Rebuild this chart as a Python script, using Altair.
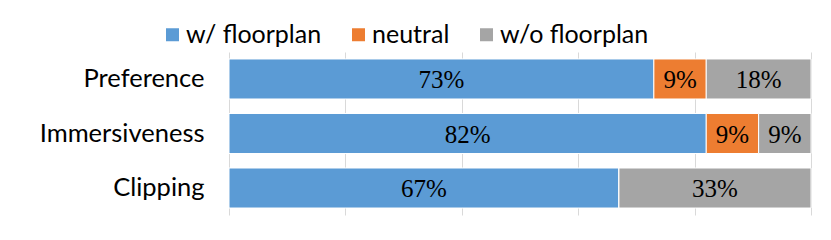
import altair as alt
import pandas as pd

categories = ["Preference", "Immersiveness", "Clipping"]
series = ["w/ floorplan", "neutral", "w/o floorplan"]
with_floorplan = [73, 82, 67]
neutral = [9, 9, 0]
without_floorplan = [18, 9, 33]
colors = ["#5B9BD5", "#ED7D31", "#A5A5A5"]

rows = []
for i, c in enumerate(categories):
    for j, (s, vals) in enumerate(zip(series, [with_floorplan, neutral, without_floorplan])):
        rows.append({"cat": c, "series": s, "order": j, "value": vals[i]})
df = pd.DataFrame(rows)

FONT = "Lato"
NUMFONT = "Liberation Serif"

base = alt.Chart(df).transform_stack(
    stack="value", groupby=["cat"], sort=[alt.SortField("order")], as_=["v0", "v1"]
).transform_calculate(mid="(datum.v0 + datum.v1) / 2", label="datum.value + '%'")

y_enc = alt.Y(
    "cat:N",
    sort=categories,
    title=None,
    scale=alt.Scale(paddingInner=0.266, paddingOuter=0.128),
    axis=alt.Axis(domain=False, ticks=False, grid=False, labelFontSize=25.5,
                  labelFont=FONT, labelColor="#000000", labelPadding=25),
)

bars = base.mark_bar(stroke="white", strokeWidth=1).encode(
    x=alt.X("v0:Q", scale=alt.Scale(domain=[0, 100], nice=False), title=None,
            axis=alt.Axis(values=[0, 20, 40, 60, 80, 100], labels=False, ticks=False,
                          domain=False, grid=True, gridColor="#D9D9D9", gridWidth=1)),
    x2="v1:Q",
    y=y_enc,
    color=alt.Color("series:N", sort=series,
                    scale=alt.Scale(domain=series, range=colors),
                    legend=alt.Legend(title=None, orient="none", direction="horizontal",
                                      legendX=-69, legendY=-30, symbolType="square",
                                      symbolSize=169, symbolStrokeWidth=0,
                                      labelFontSize=25, labelFont=FONT, labelColor="#000000",
                                      labelOffset=1, columnPadding=24)),
    order=alt.Order("order:Q"),
)

text = base.transform_filter("datum.value > 0").mark_text(
    fontSize=25, font=NUMFONT, color="#000000", baseline="middle", align="center", dy=1
).encode(
    x=alt.X("mid:Q"),
    y=alt.Y("cat:N", sort=categories),
    text="label:N",
)

chart = alt.layer(bars, text).properties(
    width=582, height=163,
    autosize=alt.AutoSizeParams(type="none"),
    padding={"left": 221, "top": 44, "right": 12, "bottom": 17},
).configure_view(stroke=None)

chart.save("out.html", embed_options={"renderer": "svg", "actions": False})
